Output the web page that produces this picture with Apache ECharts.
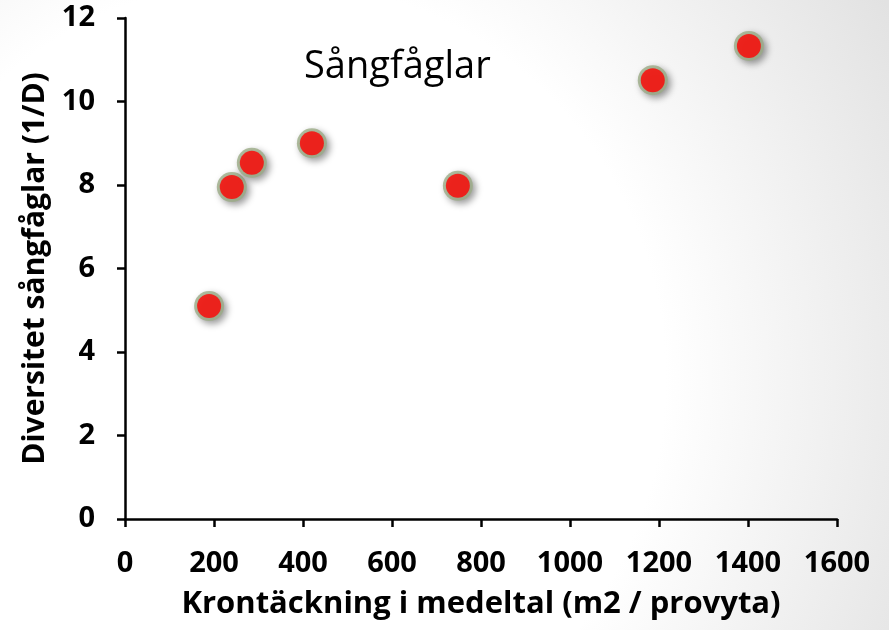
<!DOCTYPE html>
<html><head><meta charset="utf-8">
<script src="https://cdn.jsdelivr.net/npm/echarts@6/dist/echarts.min.js"></script>
<style>html,body{margin:0;padding:0;}#c{width:889px;height:630px;}</style>
</head><body><div id="c"></div>
<script>
var xValues = [189, 240, 285, 420, 748, 1186, 1402];
var yValues = [5.10, 7.95, 8.53, 9.00, 7.98, 10.51, 11.33];
var titleText = 'Sångfåglar';
var xName = 'Krontäckning i medeltal (m2 / provyta)';
var yName = 'Diversitet sångfåglar (1/D)';

var data = xValues.map(function(x, i){ return [x, yValues[i]]; });
var chart = echarts.init(document.getElementById('c'));
var font = '"Open Sans", sans-serif';
function plain(v){ return String(v); }
chart.setOption({
  backgroundColor: {type:'radial', x:0.3, y:0.6, r:1.15,
    colorStops:[{offset:0,color:'#ffffff'},{offset:0.55,color:'#ffffff'},{offset:1,color:'#e2e2e2'}]},
  animation:false,
  title:{text:titleText, left:299, top:43, textStyle:{fontFamily:font, fontWeight:'normal', fontSize:38, color:'#000'}},
  grid:{left:125, right:52, top:18, bottom:111, containLabel:false},
  xAxis:{type:'value', min:0, max:1600, interval:200,
    name:xName, nameLocation:'middle', nameGap:70,
    nameTextStyle:{fontFamily:font, fontWeight:'bold', fontSize:31, color:'#000'},
    axisLine:{show:true, lineStyle:{color:'#000', width:2.5}},
    axisTick:{show:true, length:8, lineStyle:{color:'#000', width:2.5}},
    axisLabel:{margin:30, fontFamily:font, fontWeight:'bold', fontSize:29, color:'#000', formatter:plain},
    splitLine:{show:false}},
  yAxis:{type:'value', min:0, max:12, interval:2,
    name:yName, nameLocation:'middle', nameGap:66,
    nameTextStyle:{fontFamily:font, fontWeight:'bold', fontSize:30, color:'#000'},
    axisLine:{show:true, lineStyle:{color:'#000', width:2.5}},
    axisTick:{show:true, length:8, lineStyle:{color:'#000', width:2.5}},
    axisLabel:{margin:30, fontFamily:font, fontWeight:'bold', fontSize:29, color:'#000', formatter:plain},
    splitLine:{show:false}},
  series:[
    {type:'scatter', data:data, symbol:'circle', symbolSize:30, z:2,
      itemStyle:{color:'#9bab86',
        shadowColor:'rgba(0,0,0,0.5)', shadowBlur:7, shadowOffsetX:3, shadowOffsetY:3}},
    {type:'scatter', data:data, symbol:'circle', symbolSize:24, z:3,
      itemStyle:{color:'#ff0000'}}
  ]
});
</script></body></html>
